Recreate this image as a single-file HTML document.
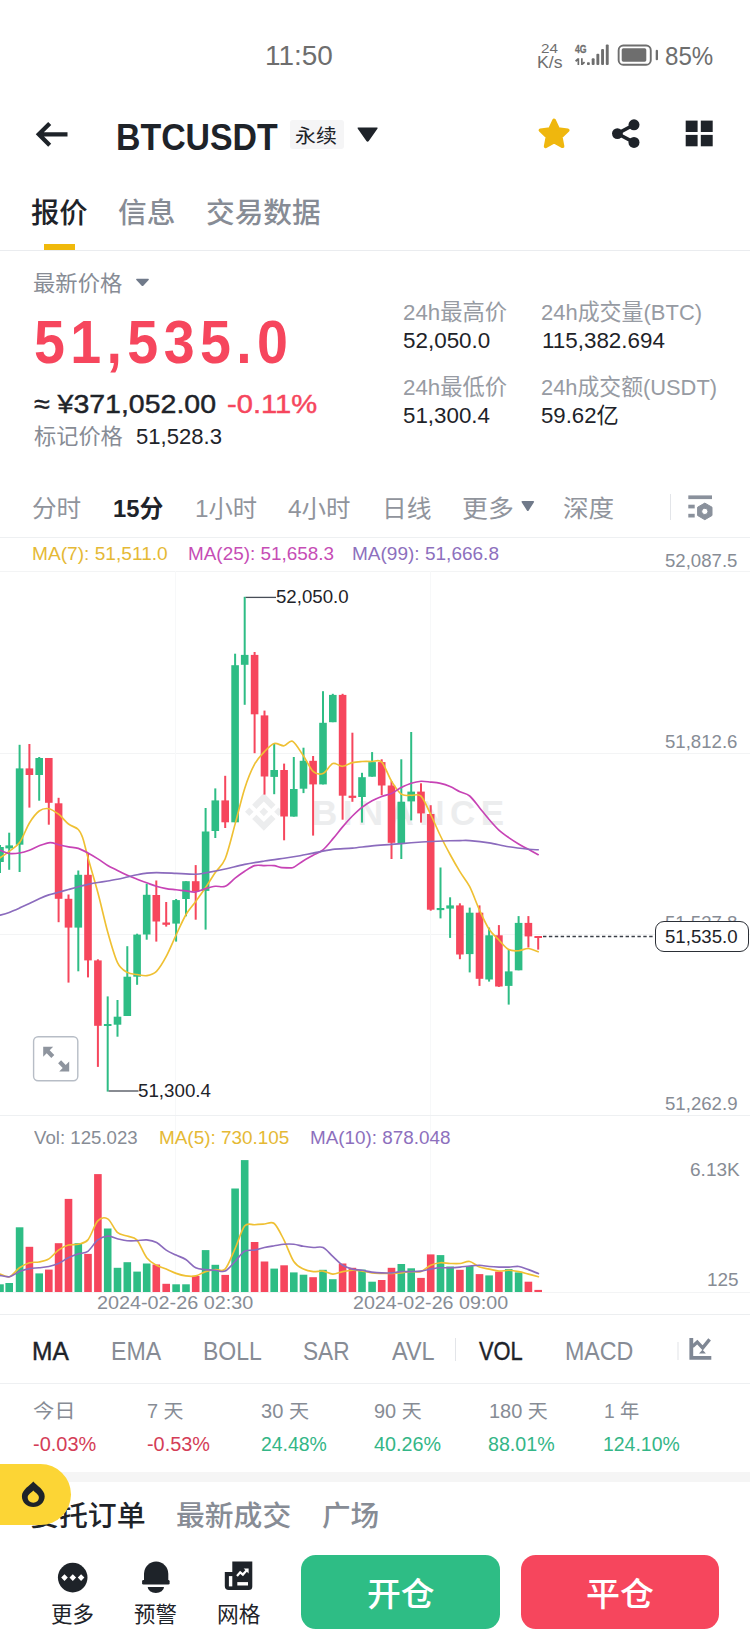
<!DOCTYPE html>
<html lang="zh-CN"><head><meta charset="utf-8"><title>BTCUSDT</title>
<style>
html,body{margin:0;padding:0;background:#fff}
body{width:750px;height:1650px;position:relative;overflow:hidden;font-family:"Liberation Sans","Noto Sans CJK SC",sans-serif}
.t{position:absolute;line-height:1;white-space:nowrap;transform-origin:0 0}
.a{position:absolute}
</style></head>
<body>
<!-- status bar icons -->
<svg class="a" style="left:570px;top:40px" width="95" height="32" viewBox="570 40 95 32">
  <g fill="#6e6e6e">
    <rect x="587" y="62.300" width="2.800" height="2.800" rx=".8"/>
    <rect x="591.700" y="58.300" width="2.900" height="6.800" rx="1"/>
    <rect x="596.400" y="53.700" width="2.900" height="11.400" rx="1"/>
    <rect x="601.100" y="49" width="2.900" height="16.100" rx="1"/>
    <rect x="605.800" y="44.600" width="2.900" height="20.500" rx="1"/>
    <path d="M577.500 58.300h1.700v6.800h-1.700zM575 60.600l2.500-2.300v2.500l-1.300 1.200z"/>
    <path d="M581 58.300h1.700v6.800h-1.700zM585.200 62.800l-2.500 2.300v-2.500l1.300-1.200z"/>
    <rect x="655.700" y="49.700" width="2.300" height="10.600" rx="1.100"/>
    <rect x="621.700" y="48.300" width="24.600" height="13.400" rx="1.600"/>
  </g>
  <rect x="618.650" y="45.550" width="32.100" height="19.200" rx="4.600" fill="none" stroke="#6e6e6e" stroke-width="1.900"/>
</svg>

<!-- header icons -->
<svg class="a" style="left:30px;top:115px" width="50" height="40" viewBox="30 115 50 40">
  <path d="M49.700 123.400L38.800 134.300L49.700 145.200M39.500 134.300H67.500" fill="none" stroke="#1e2329" stroke-width="4.300" stroke-linecap="butt" stroke-linejoin="miter"/>
</svg>
<div class="a" style="left:289.500px;top:119.500px;width:54.300px;height:29px;background:#f5f5f6;border-radius:3px"></div>
<svg class="a" style="left:355px;top:125px" width="25" height="20" viewBox="355 125 25 20">
  <path d="M358.300 127.600H376.900Q378.300 127.600 377.400 128.800L368.800 140.900Q367.600 142.500 366.400 140.900L357.800 128.800Q356.900 127.600 358.300 127.600Z" fill="#1e2329"/>
</svg>
<svg class="a" style="left:535px;top:114px" width="40" height="40" viewBox="535 114 40 40">
  <path d="M554.1 120.3L558.2 129.0L567.8 130.3L560.8 136.9L562.6 146.3L554.1 141.7L545.6 146.3L547.4 136.9L540.4 130.3L550.0 129.0Z" fill="#efb70e" stroke="#efb70e" stroke-width="3.6" stroke-linejoin="round"/>
</svg>
<svg class="a" style="left:608px;top:114px" width="40" height="40" viewBox="608 114 40 40">
  <path d="M634 124.800L617.400 133.600L634 142.400" fill="none" stroke="#1e2329" stroke-width="3.500"/>
  <circle cx="634" cy="124.800" r="5.500" fill="#1e2329"/><circle cx="617.400" cy="133.600" r="5.400" fill="#1e2329"/><circle cx="634" cy="142.400" r="5.500" fill="#1e2329"/>
</svg>
<svg class="a" style="left:680px;top:114px" width="40" height="40" viewBox="680 114 40 40">
  <g fill="#1e2329"><rect x="685.7" y="120.6" width="11.9" height="11.4"/><rect x="700.8" y="120.6" width="11.9" height="11.4"/><rect x="685.7" y="134.9" width="11.9" height="11.4"/><rect x="700.8" y="134.9" width="11.9" height="11.4"/></g>
</svg>

<!-- tabs underline + divider -->
<div class="a" style="left:44px;top:243.5px;width:31px;height:6.5px;background:#f0b90b"></div>
<div class="a" style="left:0;top:250px;width:750px;height:1px;background:#eaecef"></div>
<svg class="a" style="left:134px;top:276px" width="18" height="14" viewBox="134 276 18 14">
  <path transform="translate(0 -0.7)" d="M137 279.4H148Q149.6 279.4 148.6 280.6L143.3 286.4Q142.5 287.2 141.7 286.4L136.4 280.6Q135.4 279.4 137 279.4Z" fill="#707a8a"/>
</svg>

<!-- interval row -->
<svg class="a" style="left:519px;top:498px" width="18" height="16" viewBox="519 498 18 16">
  <path d="M522.6 501H533Q534.8 501 533.8 502.4L528.7 510.4Q527.8 511.6 526.9 510.4L521.8 502.4Q520.8 501 522.6 501Z" fill="#707a8a"/>
</svg>
<div class="a" style="left:669.500px;top:494px;width:1.500px;height:26px;background:#e3e5e9"></div>
<svg class="a" style="left:685px;top:490px" width="32" height="34" viewBox="685 490 32 34">
  <g fill="#8a919c">
    <rect x="688.300" y="495.400" width="23.700" height="3.700"/>
    <rect x="688.300" y="504.700" width="6.400" height="3.700"/>
    <rect x="688.300" y="513.800" width="6.400" height="3.700"/>
    <path fill-rule="evenodd" stroke="#8a919c" stroke-width="1" stroke-linejoin="round" d="M704.8 503.1L712.0 507.2L712.0 515.5L704.8 519.7L697.6 515.5L697.6 507.2ZM704.800 508.300a3.100 3.100 0 1 0 .01 0z"/>
  </g>
</svg>
<div class="a" style="left:0;top:537px;width:750px;height:1px;background:#eef0f2"></div>

<!-- chart -->
<svg class="a" style="left:0;top:538px" width="750" height="780" viewBox="0 538 750 780">
  <g stroke-width="1">
    <path stroke="#f3f4f5" d="M0 571.500H750M0 753.500H750M0 934.500H750M0 1292.500H750"/>
    <path stroke="#f7f8f9" d="M175.500 571V1292M430.500 571V1292"/>
  </g>
  <!-- watermark -->
  <g fill="#ecedee">
    <path transform="translate(245 793) scale(0.3)" d="M38.171 53.203L62.759 28.616l24.6 24.6 14.3-14.3L62.759 0 23.864 38.896l14.307 14.307zm-38.171 9.556l14.3-14.3 14.3 14.3-14.3 14.3-14.3-14.3zm38.171 9.556L62.759 96.903l24.6-24.6 14.307 14.3-.008.008-38.9 38.896-38.9-38.896-.02-.02 14.327-14.287zm58.988-9.556l14.3-14.3 14.3 14.3-14.3 14.3-14.3-14.3zM77.271 62.751h.008L62.759 48.231 52.025 58.96l-1.234 1.234-2.543 2.543-.02.02.02.021 14.511 14.511 14.52-14.52.008-.008-.016-.01z"/>
  </g>
  <text x="312" y="825" font-family="'Liberation Sans',sans-serif" font-weight="700" font-size="35" fill="#ecedee" textLength="192" lengthAdjust="spacing">BINANCE</text>
<rect x="-1.0" y="845.0" width="2" height="28.0" fill="#2ebd85"/>
<rect x="-3.8" y="847.0" width="7.6" height="15.0" fill="#2ebd85"/>
<rect x="8.2" y="832.7" width="2" height="37.1" fill="#2ebd85"/>
<rect x="5.4" y="845.4" width="7.6" height="3.0" fill="#2ebd85"/>
<rect x="18.6" y="744.8" width="2" height="127.2" fill="#2ebd85"/>
<rect x="15.8" y="768.4" width="7.6" height="76.3" fill="#2ebd85"/>
<rect x="28.4" y="744.0" width="2" height="63.6" fill="#f6465d"/>
<rect x="25.6" y="768.4" width="7.6" height="6.6" fill="#f6465d"/>
<rect x="38.2" y="757.0" width="2" height="43.7" fill="#2ebd85"/>
<rect x="35.4" y="758.0" width="7.6" height="17.0" fill="#2ebd85"/>
<rect x="47.8" y="758.0" width="2" height="66.7" fill="#f6465d"/>
<rect x="45.0" y="758.0" width="7.6" height="44.8" fill="#f6465d"/>
<rect x="57.6" y="797.8" width="2" height="124.4" fill="#f6465d"/>
<rect x="54.8" y="803.3" width="7.6" height="95.5" fill="#f6465d"/>
<rect x="67.5" y="894.5" width="2" height="88.1" fill="#f6465d"/>
<rect x="64.7" y="898.8" width="7.6" height="28.8" fill="#f6465d"/>
<rect x="77.3" y="870.5" width="2" height="100.8" fill="#2ebd85"/>
<rect x="74.5" y="874.8" width="7.6" height="52.8" fill="#2ebd85"/>
<rect x="87.0" y="853.5" width="2" height="123.9" fill="#f6465d"/>
<rect x="84.2" y="874.8" width="7.6" height="85.6" fill="#f6465d"/>
<rect x="96.9" y="959.3" width="2" height="107.6" fill="#f6465d"/>
<rect x="94.1" y="960.4" width="7.6" height="65.4" fill="#f6465d"/>
<rect x="106.7" y="996.4" width="2" height="95.2" fill="#2ebd85"/>
<rect x="103.9" y="1024.0" width="7.6" height="2.0" fill="#2ebd85"/>
<rect x="116.5" y="1000.0" width="2" height="36.7" fill="#2ebd85"/>
<rect x="113.7" y="1016.7" width="7.6" height="8.0" fill="#2ebd85"/>
<rect x="126.3" y="946.2" width="2" height="69.8" fill="#2ebd85"/>
<rect x="123.5" y="976.7" width="7.6" height="39.3" fill="#2ebd85"/>
<rect x="136.1" y="933.7" width="2" height="51.1" fill="#2ebd85"/>
<rect x="133.3" y="934.6" width="7.6" height="42.1" fill="#2ebd85"/>
<rect x="145.7" y="883.7" width="2" height="56.0" fill="#2ebd85"/>
<rect x="142.9" y="894.8" width="7.6" height="39.7" fill="#2ebd85"/>
<rect x="155.3" y="880.5" width="2" height="61.1" fill="#f6465d"/>
<rect x="152.5" y="895.0" width="7.6" height="26.5" fill="#f6465d"/>
<rect x="165.2" y="902.0" width="2" height="24.6" fill="#f6465d"/>
<rect x="162.4" y="922.5" width="7.6" height="2.3" fill="#f6465d"/>
<rect x="175.1" y="899.0" width="2" height="42.6" fill="#2ebd85"/>
<rect x="172.3" y="900.1" width="7.6" height="23.5" fill="#2ebd85"/>
<rect x="185.0" y="881.2" width="2" height="35.1" fill="#2ebd85"/>
<rect x="182.2" y="881.2" width="7.6" height="17.8" fill="#2ebd85"/>
<rect x="194.7" y="865.1" width="2" height="54.6" fill="#f6465d"/>
<rect x="191.9" y="881.2" width="7.6" height="10.2" fill="#f6465d"/>
<rect x="204.6" y="808.0" width="2" height="121.6" fill="#2ebd85"/>
<rect x="201.8" y="831.5" width="7.6" height="59.4" fill="#2ebd85"/>
<rect x="214.3" y="788.4" width="2" height="49.6" fill="#2ebd85"/>
<rect x="211.5" y="800.4" width="7.6" height="30.6" fill="#2ebd85"/>
<rect x="224.2" y="775.8" width="2" height="52.2" fill="#f6465d"/>
<rect x="221.4" y="800.4" width="7.6" height="21.9" fill="#f6465d"/>
<rect x="234.1" y="653.7" width="2" height="168.6" fill="#2ebd85"/>
<rect x="231.3" y="665.2" width="7.6" height="157.1" fill="#2ebd85"/>
<rect x="243.7" y="596.8" width="2" height="108.0" fill="#2ebd85"/>
<rect x="240.9" y="654.9" width="7.6" height="9.9" fill="#2ebd85"/>
<rect x="253.6" y="652.0" width="2" height="101.2" fill="#f6465d"/>
<rect x="250.8" y="654.9" width="7.6" height="59.4" fill="#f6465d"/>
<rect x="263.5" y="710.6" width="2" height="84.0" fill="#f6465d"/>
<rect x="260.7" y="715.4" width="7.6" height="61.1" fill="#f6465d"/>
<rect x="273.2" y="743.0" width="2" height="51.2" fill="#2ebd85"/>
<rect x="270.4" y="770.0" width="7.6" height="6.9" fill="#2ebd85"/>
<rect x="283.1" y="763.6" width="2" height="76.7" fill="#f6465d"/>
<rect x="280.3" y="770.0" width="7.6" height="46.5" fill="#f6465d"/>
<rect x="292.8" y="757.0" width="2" height="59.6" fill="#2ebd85"/>
<rect x="290.0" y="789.0" width="7.6" height="27.6" fill="#2ebd85"/>
<rect x="302.5" y="747.7" width="2" height="45.4" fill="#2ebd85"/>
<rect x="299.7" y="760.8" width="7.6" height="27.9" fill="#2ebd85"/>
<rect x="312.1" y="756.0" width="2" height="79.6" fill="#f6465d"/>
<rect x="309.3" y="760.8" width="7.6" height="23.6" fill="#f6465d"/>
<rect x="322.0" y="691.2" width="2" height="93.2" fill="#2ebd85"/>
<rect x="319.2" y="722.8" width="7.6" height="61.6" fill="#2ebd85"/>
<rect x="331.8" y="693.8" width="2" height="28.4" fill="#2ebd85"/>
<rect x="329.0" y="694.9" width="7.6" height="27.3" fill="#2ebd85"/>
<rect x="341.6" y="693.8" width="2" height="125.9" fill="#f6465d"/>
<rect x="338.8" y="694.9" width="7.6" height="100.8" fill="#f6465d"/>
<rect x="351.4" y="732.7" width="2" height="69.1" fill="#f6465d"/>
<rect x="348.6" y="795.7" width="7.6" height="2.2" fill="#f6465d"/>
<rect x="361.0" y="772.8" width="2" height="49.8" fill="#2ebd85"/>
<rect x="358.2" y="777.2" width="7.6" height="19.8" fill="#2ebd85"/>
<rect x="371.1" y="752.1" width="2" height="24.6" fill="#2ebd85"/>
<rect x="368.3" y="762.1" width="7.6" height="14.6" fill="#2ebd85"/>
<rect x="380.7" y="759.3" width="2" height="36.0" fill="#f6465d"/>
<rect x="377.9" y="762.1" width="7.6" height="23.4" fill="#f6465d"/>
<rect x="390.5" y="781.1" width="2" height="77.9" fill="#f6465d"/>
<rect x="387.7" y="785.5" width="7.6" height="57.3" fill="#f6465d"/>
<rect x="400.3" y="759.3" width="2" height="99.7" fill="#2ebd85"/>
<rect x="397.5" y="801.8" width="7.6" height="41.5" fill="#2ebd85"/>
<rect x="410.2" y="732.0" width="2" height="88.4" fill="#2ebd85"/>
<rect x="407.4" y="791.6" width="7.6" height="9.8" fill="#2ebd85"/>
<rect x="420.0" y="783.3" width="2" height="39.3" fill="#f6465d"/>
<rect x="417.2" y="791.6" width="7.6" height="21.8" fill="#f6465d"/>
<rect x="429.7" y="805.2" width="2" height="105.5" fill="#f6465d"/>
<rect x="426.9" y="814.0" width="7.6" height="95.7" fill="#f6465d"/>
<rect x="439.5" y="867.5" width="2" height="50.9" fill="#2ebd85"/>
<rect x="436.7" y="908.0" width="7.6" height="2.1" fill="#2ebd85"/>
<rect x="449.1" y="897.3" width="2" height="40.6" fill="#2ebd85"/>
<rect x="446.3" y="905.4" width="7.6" height="3.2" fill="#2ebd85"/>
<rect x="458.9" y="903.3" width="2" height="55.9" fill="#f6465d"/>
<rect x="456.1" y="905.4" width="7.6" height="49.1" fill="#f6465d"/>
<rect x="468.7" y="907.6" width="2" height="64.8" fill="#2ebd85"/>
<rect x="465.9" y="912.7" width="7.6" height="41.4" fill="#2ebd85"/>
<rect x="478.5" y="905.4" width="2" height="80.5" fill="#f6465d"/>
<rect x="475.7" y="912.7" width="7.6" height="66.1" fill="#f6465d"/>
<rect x="488.1" y="927.6" width="2" height="54.0" fill="#2ebd85"/>
<rect x="485.3" y="935.3" width="7.6" height="44.2" fill="#2ebd85"/>
<rect x="497.9" y="925.1" width="2" height="61.8" fill="#f6465d"/>
<rect x="495.1" y="935.3" width="7.6" height="51.2" fill="#f6465d"/>
<rect x="507.7" y="949.6" width="2" height="55.0" fill="#2ebd85"/>
<rect x="504.9" y="971.4" width="7.6" height="14.5" fill="#2ebd85"/>
<rect x="517.6" y="916.1" width="2" height="54.2" fill="#2ebd85"/>
<rect x="514.8" y="922.9" width="7.6" height="47.4" fill="#2ebd85"/>
<rect x="527.4" y="916.1" width="2" height="31.4" fill="#f6465d"/>
<rect x="524.6" y="922.9" width="7.6" height="13.5" fill="#f6465d"/>
<rect x="537.2" y="936.0" width="2" height="13.6" fill="#f6465d"/>
<rect x="534.4" y="936.0" width="7.6" height="2.0" fill="#f6465d"/>
<rect x="-3.8" y="1284.3" width="7.6" height="7.7" fill="#2ebd85"/>
<rect x="5.4" y="1283.0" width="7.6" height="9.0" fill="#2ebd85"/>
<rect x="15.8" y="1227.3" width="7.6" height="64.7" fill="#2ebd85"/>
<rect x="25.6" y="1246.8" width="7.6" height="45.2" fill="#f6465d"/>
<rect x="35.4" y="1273.4" width="7.6" height="18.6" fill="#2ebd85"/>
<rect x="45.0" y="1269.6" width="7.6" height="22.4" fill="#f6465d"/>
<rect x="54.8" y="1243.2" width="7.6" height="48.8" fill="#f6465d"/>
<rect x="64.7" y="1198.9" width="7.6" height="93.1" fill="#f6465d"/>
<rect x="74.5" y="1243.2" width="7.6" height="48.8" fill="#2ebd85"/>
<rect x="84.2" y="1253.9" width="7.6" height="38.1" fill="#f6465d"/>
<rect x="94.1" y="1174.1" width="7.6" height="117.9" fill="#f6465d"/>
<rect x="103.9" y="1228.5" width="7.6" height="63.5" fill="#2ebd85"/>
<rect x="113.7" y="1267.8" width="7.6" height="24.2" fill="#2ebd85"/>
<rect x="123.5" y="1262.2" width="7.6" height="29.8" fill="#2ebd85"/>
<rect x="133.3" y="1271.6" width="7.6" height="20.4" fill="#2ebd85"/>
<rect x="142.9" y="1263.5" width="7.6" height="28.5" fill="#2ebd85"/>
<rect x="152.5" y="1264.5" width="7.6" height="27.5" fill="#f6465d"/>
<rect x="162.4" y="1283.8" width="7.6" height="8.2" fill="#f6465d"/>
<rect x="172.3" y="1284.3" width="7.6" height="7.7" fill="#2ebd85"/>
<rect x="182.2" y="1284.3" width="7.6" height="7.7" fill="#2ebd85"/>
<rect x="191.9" y="1275.9" width="7.6" height="16.1" fill="#f6465d"/>
<rect x="201.8" y="1250.1" width="7.6" height="41.9" fill="#2ebd85"/>
<rect x="211.5" y="1264.8" width="7.6" height="27.2" fill="#2ebd85"/>
<rect x="221.4" y="1274.9" width="7.6" height="17.1" fill="#f6465d"/>
<rect x="231.3" y="1188.5" width="7.6" height="103.5" fill="#2ebd85"/>
<rect x="240.9" y="1160.1" width="7.6" height="131.9" fill="#2ebd85"/>
<rect x="250.8" y="1242.0" width="7.6" height="50.0" fill="#f6465d"/>
<rect x="260.7" y="1261.5" width="7.6" height="30.5" fill="#f6465d"/>
<rect x="270.4" y="1268.6" width="7.6" height="23.4" fill="#2ebd85"/>
<rect x="280.3" y="1265.3" width="7.6" height="26.7" fill="#f6465d"/>
<rect x="290.0" y="1272.4" width="7.6" height="19.6" fill="#2ebd85"/>
<rect x="299.7" y="1274.7" width="7.6" height="17.3" fill="#2ebd85"/>
<rect x="309.3" y="1277.2" width="7.6" height="14.8" fill="#f6465d"/>
<rect x="319.2" y="1269.8" width="7.6" height="22.2" fill="#2ebd85"/>
<rect x="329.0" y="1279.2" width="7.6" height="12.8" fill="#2ebd85"/>
<rect x="338.8" y="1263.5" width="7.6" height="28.5" fill="#f6465d"/>
<rect x="348.6" y="1267.8" width="7.6" height="24.2" fill="#f6465d"/>
<rect x="358.2" y="1269.6" width="7.6" height="22.4" fill="#2ebd85"/>
<rect x="368.3" y="1281.7" width="7.6" height="10.3" fill="#2ebd85"/>
<rect x="377.9" y="1280.0" width="7.6" height="12.0" fill="#f6465d"/>
<rect x="387.7" y="1267.8" width="7.6" height="24.2" fill="#f6465d"/>
<rect x="397.5" y="1264.0" width="7.6" height="28.0" fill="#2ebd85"/>
<rect x="407.4" y="1268.3" width="7.6" height="23.7" fill="#2ebd85"/>
<rect x="417.2" y="1277.9" width="7.6" height="14.1" fill="#f6465d"/>
<rect x="426.9" y="1254.4" width="7.6" height="37.6" fill="#f6465d"/>
<rect x="436.7" y="1255.1" width="7.6" height="36.9" fill="#2ebd85"/>
<rect x="446.3" y="1266.5" width="7.6" height="25.5" fill="#2ebd85"/>
<rect x="456.1" y="1269.8" width="7.6" height="22.2" fill="#f6465d"/>
<rect x="465.9" y="1266.0" width="7.6" height="26.0" fill="#2ebd85"/>
<rect x="475.7" y="1274.1" width="7.6" height="17.9" fill="#f6465d"/>
<rect x="485.3" y="1275.4" width="7.6" height="16.6" fill="#2ebd85"/>
<rect x="495.1" y="1271.6" width="7.6" height="20.4" fill="#f6465d"/>
<rect x="504.9" y="1269.1" width="7.6" height="22.9" fill="#2ebd85"/>
<rect x="514.8" y="1272.4" width="7.6" height="19.6" fill="#2ebd85"/>
<rect x="524.6" y="1281.7" width="7.6" height="10.3" fill="#f6465d"/>
<rect x="534.4" y="1289.9" width="7.6" height="2.1" fill="#f6465d"/>
<path d="M0.0 857.8 C1.5 856.8 6.1 853.7 9.2 851.3 C12.3 848.9 16.4 847.1 19.6 842.6 C22.8 838.1 26.3 828.1 29.4 823.0 C32.5 817.9 36.1 813.3 39.2 811.0 C42.3 808.7 45.7 808.2 48.8 808.7 C51.9 809.2 55.4 811.8 58.6 814.2 C61.8 816.6 65.3 821.6 68.5 824.0 C71.7 826.4 76.0 827.2 78.3 829.5 C80.6 831.8 81.2 833.7 82.8 838.2 C84.4 842.7 85.6 849.1 88.0 857.8 C90.4 866.5 94.7 880.8 97.9 892.7 C101.1 904.6 104.6 920.8 107.7 932.0 C110.8 943.2 114.4 956.1 117.5 962.6 C120.6 969.1 124.2 970.5 127.3 972.4 C130.4 974.3 134.0 974.0 137.1 974.5 C140.2 975.0 143.8 976.1 146.9 975.6 C150.0 975.1 153.4 974.3 156.5 971.3 C159.6 968.3 163.0 962.5 166.1 956.7 C169.2 950.9 172.9 941.8 176.1 935.0 C179.3 928.2 182.9 919.9 186.0 914.5 C189.1 909.1 192.6 905.8 195.7 901.5 C198.8 897.2 202.5 892.1 205.6 887.5 C208.7 882.9 212.2 877.1 215.3 872.5 C218.4 867.9 222.0 866.4 225.2 858.7 C228.4 851.0 232.0 835.3 235.1 824.1 C238.2 812.9 241.6 798.0 244.7 788.4 C247.8 778.8 251.4 770.1 254.6 764.2 C257.8 758.3 261.4 754.9 264.5 751.6 C267.6 748.3 271.1 744.4 274.2 743.5 C277.3 742.6 281.2 746.2 284.1 745.8 C287.0 745.4 289.4 739.7 292.5 741.3 C295.6 742.9 300.2 751.2 303.5 756.0 C306.8 760.8 310.0 768.5 313.1 771.3 C316.2 774.1 319.8 774.7 323.0 773.5 C326.2 772.3 329.7 764.8 332.8 763.6 C335.9 762.4 339.5 766.5 342.6 766.3 C345.7 766.1 349.3 763.4 352.4 762.6 C355.5 761.8 358.8 761.7 362.0 761.5 C365.2 761.3 368.9 761.4 372.1 761.5 C375.3 761.6 378.6 759.0 381.7 762.1 C384.8 765.2 388.4 776.0 391.5 781.1 C394.6 786.2 398.1 791.9 401.3 794.2 C404.5 796.5 408.0 795.0 411.2 795.3 C414.4 795.6 417.9 793.1 421.0 796.2 C424.1 799.3 427.6 808.1 430.7 814.5 C433.8 820.9 437.4 829.6 440.5 836.0 C443.6 842.4 447.0 848.8 450.1 854.5 C453.2 860.2 456.8 866.5 459.9 871.7 C463.0 876.9 466.6 880.6 469.7 886.7 C472.8 892.8 476.4 903.3 479.5 910.1 C482.6 916.9 486.0 924.5 489.1 929.3 C492.2 934.1 495.8 936.8 498.9 940.0 C502.0 943.2 505.5 947.9 508.7 949.6 C511.9 951.3 515.4 950.9 518.6 950.7 C521.8 950.5 525.3 948.3 528.4 948.5 C531.5 948.7 536.6 951.2 538.2 951.7" fill="none" stroke="#efc033" stroke-width="1.650" stroke-linejoin="round" stroke-linecap="round"/>
<path d="M0.0 850.2 C1.5 850.7 6.1 853.1 9.2 853.5 C12.3 853.9 16.4 853.5 19.6 853.0 C22.8 852.5 26.3 851.4 29.4 850.2 C32.5 849.0 35.9 847.0 39.2 845.8 C42.5 844.6 47.0 842.8 50.1 842.6 C53.2 842.4 55.7 844.0 58.6 844.7 C61.5 845.4 65.3 846.3 68.5 846.9 C71.7 847.5 75.2 847.4 78.3 848.4 C81.4 849.4 84.9 851.3 88.0 853.0 C91.1 854.7 94.7 856.9 97.9 858.9 C101.1 860.9 104.6 863.6 107.7 865.5 C110.8 867.4 114.4 868.9 117.5 870.5 C120.6 872.1 124.2 873.9 127.3 875.3 C130.4 876.7 134.0 878.0 137.1 879.2 C140.2 880.4 143.6 881.7 146.7 882.8 C149.8 883.9 153.2 885.4 156.3 886.3 C159.4 887.2 163.0 888.0 166.2 888.6 C169.4 889.2 172.9 889.4 176.1 889.8 C179.3 890.2 182.9 890.5 186.0 890.9 C189.1 891.3 192.6 892.4 195.7 892.0 C198.8 891.6 202.5 889.5 205.6 888.6 C208.7 887.7 212.2 886.7 215.3 886.3 C218.4 885.9 222.0 887.6 225.2 886.3 C228.4 885.0 232.0 880.6 235.1 878.2 C238.2 875.8 241.6 873.3 244.7 871.3 C247.8 869.3 251.4 866.5 254.6 865.6 C257.8 864.7 261.4 865.6 264.5 865.6 C267.6 865.6 271.7 865.3 274.2 865.6 C276.7 865.9 277.9 867.0 280.4 867.4 C282.9 867.8 287.5 867.8 289.6 867.8 C291.7 867.8 291.5 868.4 293.7 867.3 C295.9 866.2 300.4 862.6 303.5 860.7 C306.6 858.8 310.0 857.0 313.1 855.3 C316.2 853.6 319.8 852.4 323.0 849.8 C326.2 847.2 329.7 842.6 332.8 838.9 C335.9 835.2 339.5 830.6 342.6 826.9 C345.7 823.2 349.3 819.1 352.4 816.0 C355.5 812.9 358.8 809.7 362.0 807.3 C365.2 804.9 368.9 802.4 372.1 800.7 C375.3 799.0 378.6 797.6 381.7 796.4 C384.8 795.2 388.4 794.9 391.5 793.5 C394.6 792.1 398.1 789.2 401.3 787.6 C404.5 786.0 408.0 784.3 411.2 783.3 C414.4 782.3 417.9 781.5 421.0 781.3 C424.1 781.1 427.6 781.8 430.7 782.1 C433.8 782.4 437.4 782.7 440.5 783.4 C443.6 784.1 447.0 785.2 450.1 786.5 C453.2 787.8 456.8 790.2 459.9 791.7 C463.0 793.2 466.6 793.4 469.7 796.0 C472.8 798.6 476.4 803.9 479.5 807.7 C482.6 811.5 486.0 815.9 489.1 819.5 C492.2 823.1 495.8 827.2 498.9 830.1 C502.0 833.0 505.5 835.4 508.7 837.6 C511.9 839.8 515.4 842.1 518.6 844.0 C521.8 845.9 525.3 847.6 528.4 849.3 C531.5 851.0 536.6 853.8 538.2 854.7" fill="none" stroke="#c743b5" stroke-width="1.650" stroke-linejoin="round" stroke-linecap="round"/>
<path d="M0.0 915.2 C1.5 914.8 6.1 913.6 9.2 912.4 C12.3 911.2 16.4 909.4 19.6 908.0 C22.8 906.6 26.3 905.1 29.4 903.6 C32.5 902.1 36.1 900.2 39.2 898.8 C42.3 897.4 45.7 895.9 48.8 894.9 C51.9 893.9 55.4 893.2 58.6 892.3 C61.8 891.4 65.3 890.4 68.5 889.5 C71.7 888.6 75.2 887.6 78.3 886.8 C81.4 886.0 84.9 885.1 88.0 884.4 C91.1 883.7 94.7 883.0 97.9 882.5 C101.1 882.0 104.6 881.5 107.7 881.0 C110.8 880.5 114.4 879.8 117.5 879.2 C120.6 878.6 124.2 877.7 127.3 877.0 C130.4 876.3 134.0 875.4 137.1 874.8 C140.2 874.2 143.8 873.5 146.9 873.1 C150.0 872.7 151.8 872.6 156.5 872.6 C161.2 872.6 169.8 873.1 176.1 873.4 C182.4 873.7 191.0 874.3 195.7 874.2 C200.4 874.1 200.9 873.7 205.6 872.9 C210.3 872.1 218.9 870.4 225.2 869.0 C231.5 867.6 238.4 865.7 244.7 864.4 C251.0 863.1 258.2 862.0 264.5 861.0 C270.8 860.0 278.4 859.0 284.1 858.2 C289.8 857.4 295.4 856.5 300.0 855.7 C304.6 854.9 307.9 854.1 313.1 853.1 C318.3 852.1 326.5 850.2 332.8 849.4 C339.1 848.6 346.1 848.7 352.4 848.1 C358.7 847.5 365.8 846.5 372.1 845.9 C378.4 845.3 385.2 844.9 391.5 844.4 C397.8 843.9 404.9 843.3 411.2 842.8 C417.5 842.3 424.6 841.8 430.8 841.5 C437.0 841.2 445.3 840.8 450.0 840.7 C454.7 840.6 456.7 840.6 459.9 840.6 C463.1 840.6 465.0 840.2 469.7 840.6 C474.4 841.0 482.9 841.9 489.1 842.9 C495.3 843.9 502.4 845.8 508.7 846.8 C515.0 847.8 523.7 848.8 528.4 849.3 C533.1 849.8 536.6 849.7 538.2 849.8" fill="none" stroke="#8b6bbd" stroke-width="1.650" stroke-linejoin="round" stroke-linecap="round"/>
<path d="M0.0 1274.1 C1.5 1274.5 6.5 1277.7 9.6 1276.7 C12.7 1275.7 16.3 1270.0 19.5 1267.8 C22.7 1265.6 26.3 1263.6 29.4 1262.7 C32.5 1261.8 35.9 1262.6 39.0 1262.0 C42.1 1261.4 45.8 1260.8 48.9 1258.9 C52.0 1257.0 55.4 1252.3 58.5 1250.1 C61.6 1247.9 65.2 1245.9 68.4 1245.0 C71.6 1244.1 75.2 1245.0 78.3 1244.2 C81.4 1243.4 84.8 1243.6 87.9 1239.9 C91.0 1236.2 94.6 1224.3 97.8 1220.9 C101.0 1217.5 104.6 1217.1 107.7 1218.9 C110.8 1220.7 114.2 1229.5 117.3 1232.3 C120.4 1235.1 124.1 1234.9 127.2 1236.1 C130.3 1237.3 133.7 1236.4 136.8 1239.9 C139.9 1243.4 143.5 1253.6 146.7 1257.7 C149.9 1261.8 153.5 1263.5 156.6 1265.3 C159.7 1267.1 163.1 1267.8 166.2 1269.1 C169.3 1270.4 173.0 1272.3 176.1 1273.4 C179.2 1274.5 182.7 1275.5 185.8 1275.9 C188.9 1276.3 192.5 1276.6 195.7 1275.9 C198.9 1275.2 202.4 1272.6 205.6 1271.6 C208.8 1270.6 212.4 1270.0 215.5 1269.6 C218.6 1269.2 222.0 1272.4 225.1 1269.1 C228.2 1265.8 231.9 1255.7 235.0 1248.8 C238.1 1241.9 241.5 1229.9 244.6 1226.0 C247.7 1222.1 251.3 1225.0 254.5 1224.7 C257.7 1224.4 261.2 1224.2 264.4 1224.0 C267.6 1223.8 271.1 1221.0 274.2 1223.5 C277.3 1226.0 280.8 1233.8 283.9 1239.9 C287.0 1246.0 290.7 1256.8 293.8 1261.5 C296.9 1266.2 300.3 1267.5 303.4 1269.1 C306.5 1270.7 310.1 1271.3 313.3 1271.6 C316.5 1271.9 320.0 1270.7 323.1 1271.1 C326.2 1271.5 329.7 1274.0 332.8 1274.1 C335.9 1274.2 339.5 1272.2 342.7 1271.6 C345.9 1271.0 349.4 1270.4 352.5 1270.3 C355.6 1270.2 359.1 1270.7 362.2 1271.1 C365.3 1271.5 368.6 1272.5 371.7 1272.9 C374.8 1273.3 378.3 1273.3 381.5 1273.4 C384.7 1273.5 388.3 1273.5 391.4 1273.4 C394.5 1273.3 397.9 1273.2 401.0 1272.9 C404.1 1272.6 407.7 1271.8 410.9 1271.6 C414.1 1271.4 417.6 1272.6 420.8 1271.6 C424.0 1270.6 427.6 1266.7 430.7 1265.3 C433.8 1263.9 437.2 1263.0 440.3 1262.7 C443.4 1262.4 447.0 1263.4 450.2 1263.5 C453.4 1263.6 457.0 1263.8 460.1 1263.5 C463.2 1263.2 466.6 1260.9 469.7 1261.5 C472.8 1262.1 476.5 1265.9 479.6 1267.1 C482.7 1268.3 486.1 1268.5 489.2 1269.1 C492.3 1269.7 495.9 1270.9 499.1 1271.1 C502.3 1271.3 505.8 1270.2 509.0 1270.3 C512.2 1270.4 515.8 1271.0 518.9 1271.6 C522.0 1272.2 525.4 1273.3 528.5 1274.1 C531.6 1274.9 536.8 1276.3 538.4 1276.7" fill="none" stroke="#efc033" stroke-width="1.650" stroke-linejoin="round" stroke-linecap="round"/>
<path d="M0.0 1275.4 C1.5 1275.6 6.5 1277.3 9.6 1276.7 C12.7 1276.1 16.3 1272.9 19.5 1271.6 C22.7 1270.3 26.3 1269.2 29.4 1268.6 C32.5 1268.0 35.9 1268.1 39.0 1267.8 C42.1 1267.5 45.8 1267.2 48.9 1266.5 C52.0 1265.8 55.4 1264.9 58.5 1263.5 C61.6 1262.1 65.2 1259.2 68.4 1257.7 C71.6 1256.2 75.2 1254.9 78.3 1253.9 C81.4 1252.9 84.8 1253.5 87.9 1251.3 C91.0 1249.1 94.6 1242.3 97.8 1239.9 C101.0 1237.5 104.6 1236.3 107.7 1236.1 C110.8 1235.9 114.2 1238.0 117.3 1238.7 C120.4 1239.4 124.1 1240.4 127.2 1240.7 C130.3 1241.0 133.7 1240.8 136.8 1240.7 C139.9 1240.6 143.5 1239.6 146.7 1239.9 C149.9 1240.2 153.5 1240.9 156.6 1242.5 C159.7 1244.1 163.1 1248.1 166.2 1250.1 C169.3 1252.1 173.0 1253.6 176.1 1255.1 C179.2 1256.6 182.7 1257.5 185.8 1259.5 C188.9 1261.5 192.5 1266.2 195.7 1267.8 C198.9 1269.4 202.4 1269.2 205.6 1269.6 C208.8 1270.0 212.4 1270.1 215.5 1270.3 C218.6 1270.5 222.0 1272.5 225.1 1271.1 C228.2 1269.7 231.9 1264.7 235.0 1261.5 C238.1 1258.3 241.5 1253.1 244.6 1251.3 C247.7 1249.5 251.3 1250.7 254.5 1250.1 C257.7 1249.5 261.2 1248.2 264.4 1247.5 C267.6 1246.8 271.1 1246.3 274.2 1245.8 C277.3 1245.3 280.8 1244.5 283.9 1244.2 C287.0 1243.9 290.7 1243.9 293.8 1244.2 C296.9 1244.5 300.3 1245.8 303.4 1246.3 C306.5 1246.8 310.1 1247.3 313.3 1247.5 C316.5 1247.7 320.0 1246.1 323.1 1247.5 C326.2 1248.9 329.7 1253.6 332.8 1256.4 C335.9 1259.2 339.5 1263.3 342.7 1265.3 C345.9 1267.3 349.4 1268.3 352.5 1269.1 C355.6 1269.9 359.1 1269.8 362.2 1270.3 C365.3 1270.8 368.6 1271.7 371.7 1272.1 C374.8 1272.5 378.3 1272.8 381.5 1272.9 C384.7 1273.0 388.3 1273.1 391.4 1272.9 C394.5 1272.7 397.9 1271.8 401.0 1271.6 C404.1 1271.4 407.7 1271.7 410.9 1271.6 C414.1 1271.5 417.6 1271.5 420.8 1271.1 C424.0 1270.7 427.6 1269.6 430.7 1269.1 C433.8 1268.6 437.2 1268.0 440.3 1267.8 C443.4 1267.6 447.0 1267.9 450.2 1267.8 C453.4 1267.7 457.0 1267.4 460.1 1267.1 C463.2 1266.8 466.6 1266.3 469.7 1266.0 C472.8 1265.7 476.5 1265.2 479.6 1265.3 C482.7 1265.4 486.1 1266.2 489.2 1266.5 C492.3 1266.8 495.9 1267.0 499.1 1267.1 C502.3 1267.2 505.8 1267.2 509.0 1267.1 C512.2 1267.0 515.8 1266.1 518.9 1266.5 C522.0 1266.9 525.4 1268.5 528.5 1269.6 C531.6 1270.7 536.8 1273.0 538.4 1273.6" fill="none" stroke="#8b6bbd" stroke-width="1.650" stroke-linejoin="round" stroke-linecap="round"/>
  <!-- hi / lo markers -->
  <path d="M245.600 597.400H276" fill="none" stroke="#474d57" stroke-width="1.300"/>
  <path d="M108.600 1091H138.500" fill="none" stroke="#474d57" stroke-width="1.300"/>
  <!-- current price -->
  <path d="M543 936.500H655" stroke="#3a3f47" stroke-width="1.400" stroke-dasharray="3.400 2.500"/>
  <!-- expand btn -->
  <rect x="33.600" y="1036.800" width="44.200" height="44" rx="4.500" fill="#fff" stroke="#b7bdc6" stroke-width="1.400"/>
  <g fill="#8e949e">
    <path d="M43.200 1046.800h10l-3.500 3.500l4.600 4.600l-3 3l-4.600-4.600l-3.500 3.500z"/>
    <path d="M69.200 1071.400h-10l3.500-3.500l-4.600-4.600l3-3l4.600 4.600l3.500-3.500z"/>
  </g>
  <path d="M0 1115.500H750" stroke="#eef0f2" stroke-width="1"/>
  <path d="M0 1314.500H750" stroke="#eceef0" stroke-width="1"/>
</svg>
<div class="a" style="left:654.700px;top:921px;width:92.600px;height:28.800px;border:1px solid #2b2f36;border-radius:9px;background:#fff;box-sizing:content-box;z-index:2"></div>

<!-- indicator row -->
<div class="a" style="left:454.500px;top:1337.500px;width:1.500px;height:23.500px;background:#e3e5e9"></div>
<div class="a" style="left:677px;top:1342px;width:1.500px;height:18px;background:#f0f1f3"></div>
<svg class="a" style="left:685px;top:1334px" width="32" height="32" viewBox="685 1334 32 32">
  <path d="M691.300 1338V1357.900H711.300" fill="none" stroke="#7f8794" stroke-width="3.800"/>
  <path d="M692.500 1346.600l4.800-4.500l5.400 5.800l6.900-8.500" fill="none" stroke="#7f8794" stroke-width="3.400"/>
  <path d="M699 1353.400h6.900l-3.400-3.700z" fill="#7f8794"/>
</svg>
<div class="a" style="left:0;top:1383px;width:750px;height:1px;background:#eef0f2"></div>

<!-- gray band -->
<div class="a" style="left:0;top:1471.500px;width:750px;height:10px;background:#f5f5f5"></div>

<!-- bottom nav icons -->
<svg class="a" style="left:50px;top:1556px" width="220" height="44" viewBox="50 1556 220 44">
  <circle cx="72.700" cy="1577.600" r="14.800" fill="#1e2329"/>
  <g fill="#fff">
    <path d="M64.500 1574.300l3.300 3.300l-3.300 3.300l-3.300-3.300zM72.800 1574.300l3.300 3.300l-3.300 3.300l-3.300-3.300zM81.100 1574.300l3.300 3.300l-3.300 3.300l-3.300-3.300z"/>
  </g>
  <g fill="#1e2329">
    <path d="M144 1581V1573.750a12.150 12.150 0 0 1 24.300 0V1581z"/>
    <rect x="142.100" y="1579.900" width="27.500" height="4.600" rx="1.300"/>
    <path d="M147.700 1587H164a8.150 6.100 0 0 1 -16.300 0z"/>
  </g>
  <g>
    <path d="M232.300 1561.600H252.300V1586.600Q252.300 1590.100 248.800 1590.100H228.800Q224.800 1590.100 224.800 1586.100V1572H232.300Z" fill="#1e2329"/>
    <path d="M228.900 1576.100h3.400v10.300h-3.400z" fill="#fff"/>
    <path d="M237.300 1582.100h10.700v3.400h-10.700z" fill="#fff"/>
    <path d="M237 1576l3.200-3.700l2.700 2.300l3.600-4" fill="none" stroke="#fff" stroke-width="2.200"/>
    <path d="M243.700 1568.600h4.900v4.900z" fill="#fff"/>
  </g>
</svg>

<!-- buttons -->
<div class="a" style="left:301.100px;top:1554.900px;width:198.600px;height:74.200px;border-radius:14.700px;background:#2ebd85"></div>
<div class="a" style="left:520.700px;top:1554.900px;width:198.200px;height:74.200px;border-radius:14.700px;background:#f6465d"></div>

<div class="t" id="st_time" style="left:265.49px;top:41.75px;font-size:27.20px;color:#6e6e6e;font-weight:400;transform:scaleX(1.0273)">11:50</div>
<div class="t" id="st_24" style="left:541.44px;top:43.44px;font-size:12.50px;color:#6e6e6e;font-weight:400;transform:scaleX(1.2177)">24</div>
<div class="t" id="st_ks" style="left:536.88px;top:55.07px;font-size:16.00px;color:#6e6e6e;font-weight:400;transform:scaleX(1.1024)">K/s</div>
<div class="t" id="st_4g" style="left:575.00px;top:44.34px;font-size:10.50px;color:#6e6e6e;font-weight:700;transform:scaleX(0.8260);-webkit-text-stroke:0.3px #6e6e6e">4G</div>
<div class="t" id="st_pct" style="left:664.83px;top:42.78px;font-size:26.20px;color:#6e6e6e;font-weight:400;transform:scaleX(0.9196)">85%</div>
<div class="t" id="h_title" style="left:115.96px;top:120.40px;font-size:36.50px;color:#1e2329;font-weight:700;transform:scaleX(0.9276)">BTCUSDT</div>
<div class="t" id="h_badge" style="left:294.96px;top:126.81px;font-size:19.50px;color:#1e2329;font-weight:400;transform:scaleX(1.0719)">永续</div>
<div class="t" id="tab1" style="left:31.25px;top:199.04px;font-size:28.40px;color:#1e2329;font-weight:500;transform:scaleX(0.9971)">报价</div>
<div class="t" id="tab2" style="left:118.24px;top:199.04px;font-size:28.40px;color:#878c95;font-weight:500;transform:scaleX(1.0094)">信息</div>
<div class="t" id="tab3" style="left:205.57px;top:199.04px;font-size:28.40px;color:#878c95;font-weight:500;transform:scaleX(1.0099)">交易数据</div>
<div class="t" id="p_lbl" style="left:33.37px;top:273.07px;font-size:21.75px;color:#878c95;font-weight:400;transform:scaleX(1.0265)">最新价格</div>
<div class="t" id="p_big" style="left:34.42px;top:311.39px;font-size:62.00px;color:#f6465d;font-weight:700;transform:scaleX(0.8961);letter-spacing:6px">51,535.0</div>
<div class="t" id="p_cny" style="left:34.03px;top:390.82px;font-size:26.50px;color:#1e2329;font-weight:500;transform:scaleX(1.0752);-webkit-text-stroke:0.45px #1e2329">≈ ¥371,052.00</div>
<div class="t" id="p_chg" style="left:227.20px;top:390.82px;font-size:26.50px;color:#f6465d;font-weight:500;transform:scaleX(1.0987);-webkit-text-stroke:0.45px #f6465d">-0.11%</div>
<div class="t" id="p_mark" style="left:34.10px;top:425.99px;font-size:21.75px;color:#878c95;font-weight:400;transform:scaleX(1.0205)">标记价格</div>
<div class="t" id="p_markv" style="left:136.41px;top:425.98px;font-size:21.80px;color:#1e2329;font-weight:400;transform:scaleX(1.0129)">51,528.3</div>
<div class="t" id="s1l" style="left:402.73px;top:301.92px;font-size:22.20px;color:#979ba3;font-weight:400;transform:scaleX(1.0051)">24h最高价</div>
<div class="t" id="s1v" style="left:402.70px;top:330.20px;font-size:22.10px;color:#1e2329;font-weight:400;transform:scaleX(1.0147)">52,050.0</div>
<div class="t" id="s2l" style="left:540.91px;top:301.92px;font-size:22.20px;color:#979ba3;font-weight:400;transform:scaleX(0.9897)">24h成交量(BTC)</div>
<div class="t" id="s2v" style="left:542.33px;top:330.20px;font-size:22.10px;color:#1e2329;font-weight:400;transform:scaleX(1.0138)">115,382.694</div>
<div class="t" id="s3l" style="left:402.81px;top:376.92px;font-size:22.20px;color:#979ba3;font-weight:400;transform:scaleX(1.0052)">24h最低价</div>
<div class="t" id="s3v" style="left:403.02px;top:405.20px;font-size:22.10px;color:#1e2329;font-weight:400;transform:scaleX(1.0110)">51,300.4</div>
<div class="t" id="s4l" style="left:540.94px;top:376.92px;font-size:22.20px;color:#979ba3;font-weight:400;transform:scaleX(0.9847)">24h成交额(USDT)</div>
<div class="t" id="s4v" style="left:540.54px;top:405.20px;font-size:22.10px;color:#1e2329;font-weight:400;transform:scaleX(1.0045)">59.62亿</div>
<div class="t" id="i1" style="left:31.64px;top:497.00px;font-size:24.10px;color:#90949c;font-weight:400;transform:scaleX(1.0211)">分时</div>
<div class="t" id="i2" style="left:113.19px;top:497.00px;font-size:24.10px;color:#1e2329;font-weight:700;transform:scaleX(0.9876)">15分</div>
<div class="t" id="i3" style="left:195.00px;top:497.00px;font-size:24.10px;color:#90949c;font-weight:400;transform:scaleX(1.0083)">1小时</div>
<div class="t" id="i4" style="left:288.29px;top:497.00px;font-size:24.10px;color:#90949c;font-weight:400;transform:scaleX(1.0153)">4小时</div>
<div class="t" id="i5" style="left:382.40px;top:497.00px;font-size:24.10px;color:#90949c;font-weight:400;transform:scaleX(1.0267)">日线</div>
<div class="t" id="i6" style="left:462.24px;top:497.00px;font-size:24.10px;color:#90949c;font-weight:400;transform:scaleX(1.0743)">更多</div>
<div class="t" id="i7" style="left:563.13px;top:497.00px;font-size:24.10px;color:#90949c;font-weight:400;transform:scaleX(1.0631)">深度</div>
<div class="t" id="ma7" style="left:32.15px;top:545.88px;font-size:17.75px;color:#e5b935;font-weight:400;transform:scaleX(1.0776)">MA(7): 51,511.0</div>
<div class="t" id="ma25" style="left:188.01px;top:545.88px;font-size:17.75px;color:#c64db5;font-weight:400;transform:scaleX(1.0645)">MA(25): 51,658.3</div>
<div class="t" id="ma99" style="left:352.18px;top:545.88px;font-size:17.75px;color:#8d70bd;font-weight:400;transform:scaleX(1.0717)">MA(99): 51,666.8</div>
<div class="t" id="ax1" style="left:665.10px;top:551.52px;font-size:18.50px;color:#878c95;font-weight:400;transform:scaleX(1.0058)">52,087.5</div>
<div class="t" id="ax2" style="left:665.32px;top:732.52px;font-size:18.50px;color:#878c95;font-weight:400;transform:scaleX(1.0058)">51,812.6</div>
<div class="t" id="ax3" style="left:665.32px;top:913.52px;font-size:18.50px;color:#878c95;font-weight:400;transform:scaleX(1.0058)">51,537.8</div>
<div class="t" id="ax4" style="left:665.23px;top:1094.52px;font-size:18.50px;color:#878c95;font-weight:400;transform:scaleX(1.0068)">51,262.9</div>
<div class="t" id="hi" style="left:275.85px;top:587.97px;font-size:18.50px;color:#1e2329;font-weight:400;transform:scaleX(1.0081)">52,050.0</div>
<div class="t" id="lo" style="left:138.46px;top:1081.71px;font-size:18.50px;color:#1e2329;font-weight:400;transform:scaleX(1.0137)">51,300.4</div>
<div class="t" id="tag" style="left:665.34px;top:927.73px;font-size:18.50px;color:#1e2329;font-weight:400;transform:scaleX(1.0074);z-index:3">51,535.0</div>
<div class="t" id="vol" style="left:33.56px;top:1128.84px;font-size:18.00px;color:#878c95;font-weight:400;transform:scaleX(1.0363)">Vol: 125.023</div>
<div class="t" id="vma5" style="left:158.52px;top:1128.84px;font-size:18.00px;color:#e5b935;font-weight:400;transform:scaleX(1.0509)">MA(5): 730.105</div>
<div class="t" id="vma10" style="left:310.33px;top:1128.84px;font-size:18.00px;color:#8d70bd;font-weight:400;transform:scaleX(1.0482)">MA(10): 878.048</div>
<div class="t" id="vax1" style="left:689.73px;top:1160.94px;font-size:18.50px;color:#878c95;font-weight:400;transform:scaleX(1.0290)">6.13K</div>
<div class="t" id="vax2" style="left:706.65px;top:1271.24px;font-size:18.50px;color:#878c95;font-weight:400;transform:scaleX(1.0238)">125</div>
<div class="t" id="d1" style="left:97.18px;top:1294.24px;font-size:18.75px;color:#878c95;font-weight:400;transform:scaleX(1.0548)">2024-02-26 02:30</div>
<div class="t" id="d2" style="left:353.27px;top:1294.24px;font-size:18.75px;color:#878c95;font-weight:400;transform:scaleX(1.0479)">2024-02-26 09:00</div>
<div class="t" id="k1" style="left:31.93px;top:1339.25px;font-size:25.00px;color:#1e2329;font-weight:500;transform:scaleX(0.9812);-webkit-text-stroke:0.4px #1e2329">MA</div>
<div class="t" id="k2" style="left:110.92px;top:1339.25px;font-size:25.00px;color:#878c95;font-weight:400;transform:scaleX(0.9252)">EMA</div>
<div class="t" id="k3" style="left:203.01px;top:1339.25px;font-size:25.00px;color:#878c95;font-weight:400;transform:scaleX(0.9206)">BOLL</div>
<div class="t" id="k4" style="left:303.24px;top:1339.25px;font-size:25.00px;color:#878c95;font-weight:400;transform:scaleX(0.9053)">SAR</div>
<div class="t" id="k5" style="left:391.56px;top:1339.25px;font-size:25.00px;color:#878c95;font-weight:400;transform:scaleX(0.9383)">AVL</div>
<div class="t" id="k6" style="left:478.86px;top:1339.25px;font-size:25.00px;color:#1e2329;font-weight:500;transform:scaleX(0.8730);-webkit-text-stroke:0.4px #1e2329">VOL</div>
<div class="t" id="k7" style="left:564.88px;top:1339.25px;font-size:25.00px;color:#878c95;font-weight:400;transform:scaleX(0.9292)">MACD</div>
<div class="t" id="r1l" style="left:33.46px;top:1401.93px;font-size:19.50px;color:#878c95;font-weight:400;transform:scaleX(1.0946)">今日</div>
<div class="t" id="r1v" style="left:33.22px;top:1435.32px;font-size:19.50px;color:#d43d57;font-weight:400;transform:scaleX(1.0236)">-0.03%</div>
<div class="t" id="r2l" style="left:147.17px;top:1401.93px;font-size:19.50px;color:#878c95;font-weight:400;transform:scaleX(1.0214)">7 天</div>
<div class="t" id="r2v" style="left:146.68px;top:1435.32px;font-size:19.50px;color:#d43d57;font-weight:400;transform:scaleX(1.0185)">-0.53%</div>
<div class="t" id="r3l" style="left:261.32px;top:1401.93px;font-size:19.50px;color:#878c95;font-weight:400;transform:scaleX(1.0289)">30 天</div>
<div class="t" id="r3v" style="left:261.27px;top:1435.32px;font-size:19.50px;color:#34b687;font-weight:400;transform:scaleX(0.9957)">24.48%</div>
<div class="t" id="r4l" style="left:373.94px;top:1401.93px;font-size:19.50px;color:#878c95;font-weight:400;transform:scaleX(1.0228)">90 天</div>
<div class="t" id="r4v" style="left:374.07px;top:1435.32px;font-size:19.50px;color:#34b687;font-weight:400;transform:scaleX(1.0122)">40.26%</div>
<div class="t" id="r5l" style="left:488.92px;top:1401.93px;font-size:19.50px;color:#878c95;font-weight:400;transform:scaleX(1.0240)">180 天</div>
<div class="t" id="r5v" style="left:488.10px;top:1435.32px;font-size:19.50px;color:#34b687;font-weight:400;transform:scaleX(1.0072)">88.01%</div>
<div class="t" id="r6l" style="left:604.15px;top:1401.93px;font-size:19.50px;color:#878c95;font-weight:400;transform:scaleX(0.9873)">1 年</div>
<div class="t" id="r6v" style="left:603.38px;top:1435.32px;font-size:19.50px;color:#34b687;font-weight:400;transform:scaleX(0.9965)">124.10%</div>
<div class="t" id="b1" style="left:29.58px;top:1501.59px;font-size:28.40px;color:#1e2329;font-weight:500;transform:scaleX(1.0189)">委托订单</div>
<div class="t" id="b2" style="left:176.49px;top:1501.59px;font-size:28.40px;color:#878c95;font-weight:500;transform:scaleX(1.0147)">最新成交</div>
<div class="t" id="b3" style="left:322.13px;top:1501.59px;font-size:28.40px;color:#878c95;font-weight:500;transform:scaleX(1.0081)">广场</div>
<div class="t" id="n1" style="left:51.11px;top:1604.73px;font-size:21.30px;color:#1e2329;font-weight:400;transform:scaleX(1.0079)">更多</div>
<div class="t" id="n2" style="left:134.20px;top:1604.73px;font-size:21.30px;color:#1e2329;font-weight:400;transform:scaleX(1.0040)">预警</div>
<div class="t" id="n3" style="left:216.97px;top:1604.73px;font-size:21.30px;color:#1e2329;font-weight:400;transform:scaleX(1.0219)">网格</div>
<div class="t" id="btn1" style="left:366.84px;top:1578.35px;font-size:33.00px;color:#ffffff;font-weight:500;transform:scaleX(1.0253)">开仓</div>
<div class="t" id="btn2" style="left:585.96px;top:1578.35px;font-size:33.00px;color:#ffffff;font-weight:500;transform:scaleX(1.0293)">平仓</div>
<!-- floating pill (on top of text) -->
<div class="a" style="left:-40px;top:1464px;width:110.500px;height:61px;border-radius:30.500px;background:#fcd535;z-index:5"></div>
<svg class="a" style="left:18px;top:1474px;z-index:6" width="32" height="40" viewBox="18 1474 32 40">
  <path fill-rule="evenodd" fill="#1e2329" d="M33.300 1481.500C36.500 1485.500 44.700 1489.500 44.700 1496.300C44.700 1502.600 39.600 1507.100 33.300 1507.100C27 1507.100 21.900 1502.600 21.900 1496.300C21.900 1489.500 30.100 1485.500 33.300 1481.500ZM33.300 1490.500C31.700 1492.600 27.700 1494.300 27.700 1497.500C27.700 1500.500 30.200 1502.700 33.300 1502.700C36.400 1502.700 38.900 1500.500 38.900 1497.500C38.900 1494.300 34.900 1492.600 33.300 1490.500Z"/>
</svg>
</body></html>
